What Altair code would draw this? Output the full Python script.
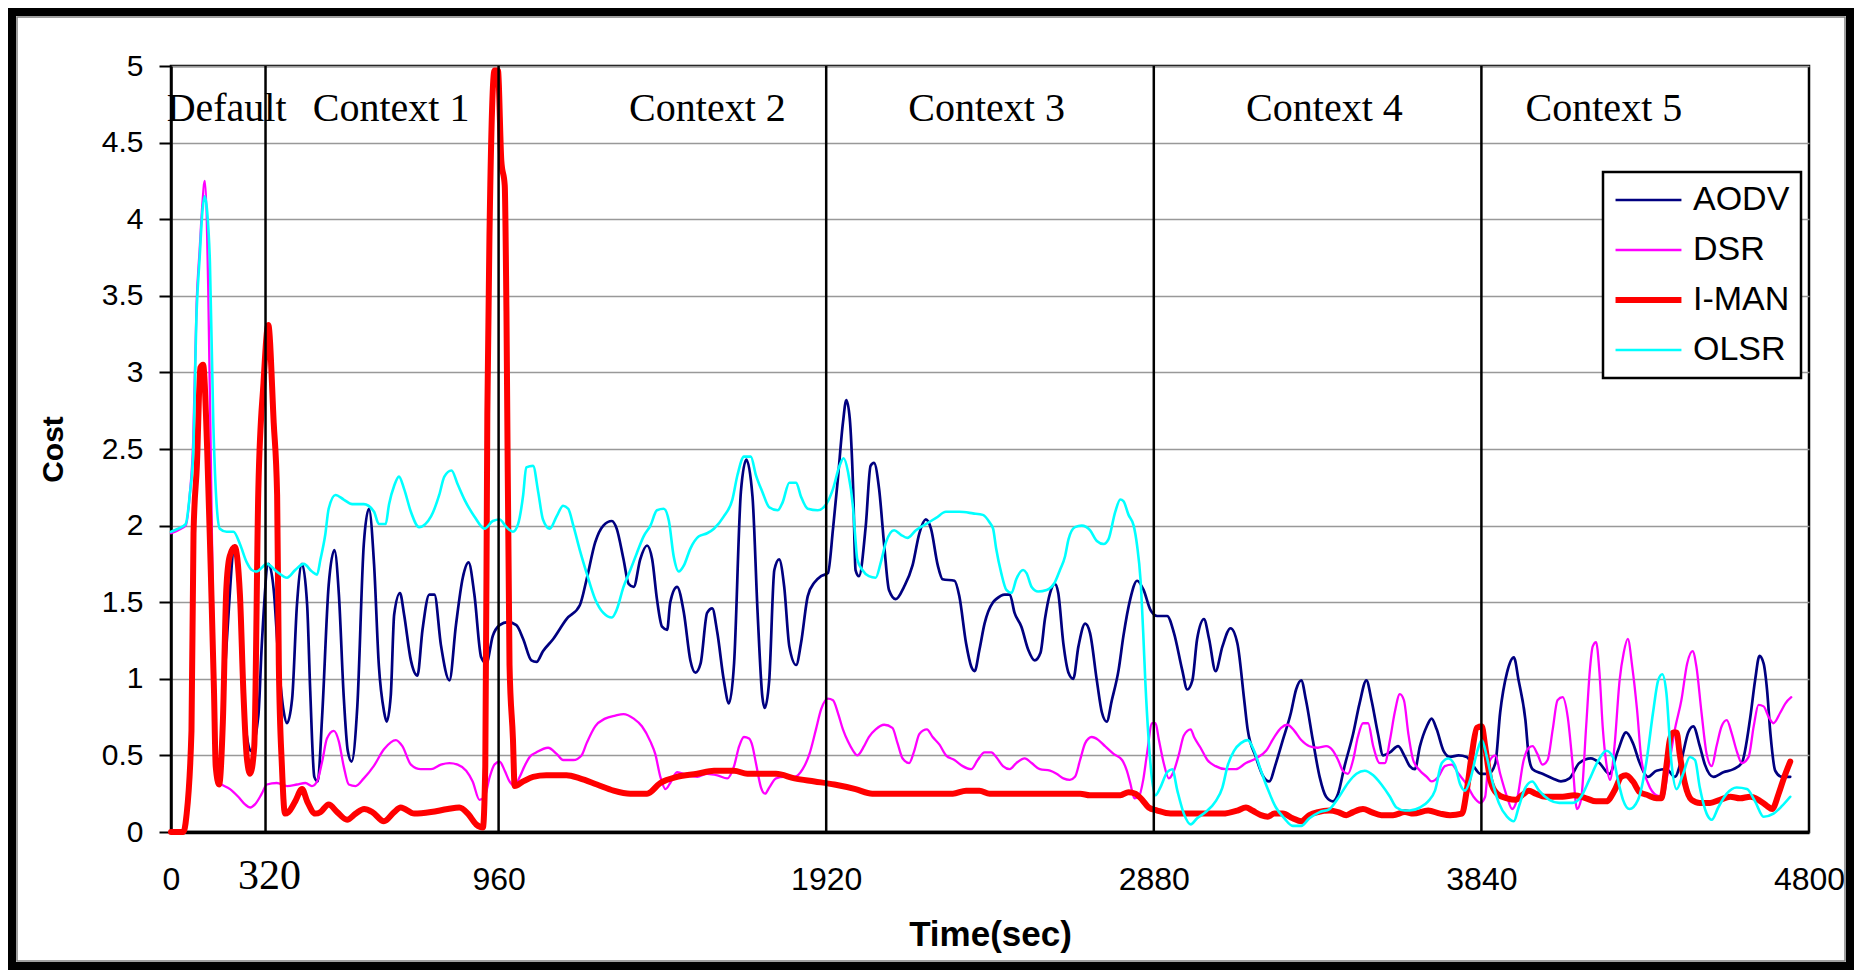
import altair as alt
import pandas as pd

SERIES = ["AODV", "DSR", "I-MAN", "OLSR"]
COLORS = ["#000080", "#FF00FF", "#FF0000", "#00FFFF"]
WIDTHS = [2.7, 2.3, 6.0, 2.6]

AODV = [(141,0.31),(165,1.3),(187,1.87),(202,1.61),(212,0.92),(222,0.63),(234,0.53),(256,0.76),(266,1.22),(286,1.75),
(301,1.58),(316,1.09),(330,0.79),(340,0.71),(355,0.87),(369,1.48),(384,1.75),(399,1.48),(408,0.92),(420,0.36),
(430,0.33),(443,0.76),(462,1.61),(479,1.84),(492,1.55),(506,0.89),(518,0.53),(529,0.46),(546,0.82),(565,1.88),
(580,2.11),(595,1.75),(609,1.09),(624,0.79),(632,0.72),(644,0.89),(654,1.42),(671,1.56),(683,1.42),(703,1.12),
(722,1.02),(737,1.32),(757,1.55),(772,1.55),(791,1.22),(816,0.99),(835,1.35),(855,1.66),(872,1.76),(889,1.55),
(909,1.14),(924,1.1),(943,1.28),(963,1.35),(987,1.37),(1012,1.35),(1032,1.26),(1056,1.12),(1071,1.11),(1090,1.18),
(1120,1.26),(1159,1.39),(1198,1.48),(1218,1.65),(1243,1.89),(1267,2.0),(1292,2.03),(1306,1.98),(1326,1.78),(1341,1.62),
(1356,1.6),(1375,1.78),(1395,1.87),(1410,1.78),(1424,1.52),(1439,1.34),(1454,1.32),(1463,1.5),(1483,1.6),(1503,1.43),
(1522,1.12),(1537,1.04),(1552,1.1),(1571,1.43),(1586,1.46),(1601,1.3),(1620,0.99),(1635,0.84),(1650,1.1),(1670,2.22),
(1686,2.43),(1704,2.19),(1719,1.43),(1733,0.88),(1740,0.81),(1753,0.99),(1768,1.71),(1782,1.78),(1797,1.6),(1812,1.21),
(1832,1.09),(1846,1.23),(1866,1.54),(1886,1.63),(1905,1.67),(1925,1.69),(1940,1.98),(1954,2.3),(1969,2.67),(1979,2.82),
(1989,2.7),(1999,2.24),(2006,1.71),(2016,1.67),(2036,2.0),(2050,2.39),(2060,2.41),(2075,2.24),(2090,1.87),(2104,1.58),
(2124,1.52),(2148,1.6),(2173,1.74),(2193,1.95),(2212,2.04),(2227,1.98),(2247,1.74),(2261,1.65),(2296,1.64),(2310,1.54),
(2330,1.23),(2345,1.08),(2355,1.05),(2369,1.19),(2384,1.36),(2409,1.5),(2418,1.52),(2443,1.55),(2458,1.55),(2472,1.43),
(2492,1.34),(2512,1.19),(2531,1.12),(2548,1.17),(2561,1.39),(2576,1.56),(2590,1.62),(2600,1.56),(2615,1.23),(2630,1.04),
(2644,1.0),(2659,1.21),(2679,1.36),(2693,1.3),(2713,0.99),(2728,0.78),(2742,0.72),(2757,0.86),(2777,1.06),(2791,1.28),
(2811,1.52),(2831,1.64),(2850,1.58),(2870,1.45),(2890,1.41),(2919,1.41),(2939,1.3),(2963,1.06),(2978,0.93),(2993,0.99),
(3007,1.26),(3027,1.39),(3042,1.26),(3061,1.05),(3081,1.21),(3105,1.33),(3125,1.23),(3145,0.86),(3155,0.67),(3179,0.49),
(3199,0.37),(3218,0.33),(3238,0.45),(3258,0.6),(3282,0.78),(3297,0.93),(3312,0.99),(3326,0.86),(3346,0.6),(3366,0.36),
(3385,0.23),(3405,0.2),(3420,0.25),(3439,0.43),(3464,0.64),(3483,0.84),(3503,0.99),(3518,0.86),(3537,0.64),(3552,0.5),
(3572,0.52),(3596,0.56),(3616,0.49),(3630,0.43),(3645,0.41),(3660,0.56),(3680,0.69),(3694,0.74),(3709,0.67),(3729,0.53),
(3748,0.49),(3773,0.5),(3797,0.49),(3817,0.43),(3837,0.38),(3861,0.38),(3881,0.45),(3895,0.78),(3915,1.04),(3935,1.14),
(3949,0.99),(3969,0.73),(3979,0.49),(3990,0.41),(4019,0.38),(4049,0.35),(4073,0.33),(4098,0.35),(4127,0.45),(4161,0.48),
(4186,0.45),(4215,0.38),(4240,0.53),(4264,0.65),(4284,0.58),(4304,0.45),(4328,0.36),(4353,0.4),(4382,0.41),(4407,0.36),
(4426,0.47),(4446,0.65),(4461,0.69),(4480,0.56),(4495,0.44),(4520,0.36),(4549,0.39),(4579,0.41),(4603,0.45),(4628,0.75),
(4642,0.99),(4655,1.15),(4667,1.1),(4677,0.93),(4687,0.64),(4701,0.4),(4721,0.36),(4745,0.36)]

DSR = [(0,1.95),(21,1.97),(43,2.0),(55,2.2),(65,2.55),(75,3.45),(84,3.8),(92,4.1),(99,4.25),(109,3.56),
(119,2.08),(128,0.76),(133,0.33),(148,0.31),(173,0.28),(197,0.23),(217,0.18),(232,0.16),(246,0.18),(266,0.25),
(281,0.31),(310,0.32),(340,0.3),(369,0.31),(394,0.32),(413,0.3),(428,0.33),(443,0.46),(457,0.61),(477,0.66),
(492,0.59),(506,0.43),(521,0.31),(541,0.3),(565,0.35),(594,0.43),(624,0.54),(659,0.6),(678,0.56),(703,0.44),
(732,0.41),(762,0.41),(791,0.44),(816,0.45),(840,0.44),(865,0.4),(884,0.33),(904,0.21),(919,0.23),(934,0.36),
(948,0.44),(963,0.46),(978,0.4),(992,0.33),(1007,0.3),(1022,0.36),(1036,0.43),(1051,0.49),(1071,0.52),(1105,0.55),
(1130,0.51),(1149,0.47),(1179,0.47),(1203,0.5),(1218,0.58),(1243,0.69),(1272,0.74),(1302,0.76),(1326,0.77),(1356,0.74),
(1380,0.69),(1405,0.59),(1419,0.51),(1434,0.36),(1449,0.28),(1463,0.32),(1483,0.39),(1513,0.37),(1542,0.36),(1571,0.38),
(1601,0.37),(1630,0.35),(1650,0.43),(1665,0.56),(1679,0.62),(1694,0.61),(1704,0.56),(1714,0.45),(1729,0.29),(1741,0.25),
(1753,0.29),(1773,0.35),(1797,0.36),(1827,0.36),(1851,0.41),(1871,0.51),(1890,0.67),(1905,0.8),(1925,0.87),(1940,0.86),
(1954,0.78),(1969,0.67),(1984,0.59),(1999,0.53),(2011,0.5),(2031,0.56),(2045,0.62),(2065,0.67),(2090,0.7),(2114,0.68),
(2129,0.58),(2144,0.48),(2163,0.45),(2178,0.53),(2193,0.64),(2215,0.67),(2232,0.62),(2252,0.57),(2271,0.5),(2296,0.47),
(2320,0.43),(2345,0.41),(2364,0.47),(2384,0.52),(2404,0.52),(2418,0.49),(2438,0.43),(2458,0.41),(2477,0.45),(2502,0.48),
(2522,0.45),(2546,0.41),(2576,0.4),(2595,0.38),(2615,0.35),(2634,0.34),(2649,0.36),(2664,0.47),(2679,0.58),(2698,0.62),
(2718,0.6),(2737,0.56),(2762,0.51),(2787,0.47),(2801,0.4),(2811,0.32),(2823,0.22),(2836,0.23),(2849,0.34),(2860,0.51),
(2875,0.71),(2885,0.71),(2895,0.6),(2909,0.45),(2924,0.35),(2939,0.4),(2954,0.51),(2968,0.63),(2988,0.67),(2998,0.62),
(3017,0.55),(3037,0.47),(3061,0.43),(3091,0.41),(3120,0.41),(3150,0.45),(3179,0.48),(3209,0.53),(3233,0.62),(3253,0.68),
(3272,0.7),(3292,0.66),(3312,0.6),(3336,0.56),(3361,0.55),(3385,0.56),(3405,0.53),(3420,0.47),(3434,0.4),(3449,0.38),
(3464,0.47),(3478,0.62),(3493,0.71),(3508,0.71),(3523,0.56),(3542,0.45),(3557,0.45),(3572,0.6),(3586,0.78),(3601,0.9),
(3613,0.86),(3626,0.64),(3640,0.47),(3660,0.4),(3680,0.36),(3694,0.33),(3714,0.36),(3733,0.43),(3753,0.44),(3773,0.38),
(3797,0.31),(3817,0.23),(3837,0.19),(3851,0.23),(3861,0.45),(3881,0.5),(3895,0.38),(3915,0.23),(3930,0.15),(3944,0.21),
(3964,0.47),(3979,0.55),(3990,0.56),(4004,0.51),(4019,0.44),(4034,0.47),(4049,0.67),(4063,0.86),(4078,0.88),(4093,0.75),
(4107,0.45),(4120,0.15),(4132,0.21),(4147,0.69),(4158,1.06),(4166,1.21),(4176,1.24),(4186,1.04),(4196,0.67),(4206,0.45),
(4217,0.34),(4230,0.56),(4245,0.99),(4257,1.17),(4269,1.26),(4282,1.08),(4296,0.8),(4309,0.47),(4328,0.32),(4353,0.24),
(4372,0.23),(4387,0.4),(4407,0.67),(4426,0.86),(4443,1.1),(4459,1.18),(4470,1.08),(4485,0.78),(4500,0.51),(4515,0.43),
(4529,0.56),(4544,0.69),(4559,0.73),(4574,0.64),(4588,0.53),(4603,0.45),(4623,0.49),(4638,0.69),(4652,0.83),(4667,0.82),
(4682,0.75),(4696,0.71),(4716,0.78),(4731,0.84),(4748,0.88)]

IMAN = [(0,0.0),(36,0.0),(45,0.1),(60,0.66),(66,1.95),(76,2.4),(86,3.03),(94,3.05),(106,2.5),(116,1.75),
(126,0.92),(131,0.43),(141,0.31),(152,0.72),(162,1.58),(172,1.8),(187,1.86),(202,1.55),(212,0.92),(222,0.49),
(232,0.38),(244,0.56),(256,2.24),(271,2.93),(285,3.31),(301,2.67),(311,2.2),(316,1.09),(325,0.43),(334,0.12),
(344,0.13),(364,0.2),(384,0.28),(399,0.2),(423,0.12),(438,0.13),(462,0.18),(487,0.13),(516,0.08),(541,0.12),
(566,0.15),(590,0.13),(624,0.07),(654,0.13),(673,0.16),(713,0.12),(762,0.13),(811,0.15),(845,0.16),(870,0.12),
(894,0.05),(914,0.03),(921,0.43),(927,2.73),(934,4.0),(948,4.97),(958,4.97),(968,4.38),(978,4.22),(983,3.4),
(992,1.09),(1002,0.61),(1007,0.3),(1032,0.33),(1061,0.36),(1100,0.37),(1159,0.37),(1198,0.35),(1248,0.31),(1297,0.27),
(1346,0.25),(1395,0.25),(1434,0.32),(1483,0.36),(1542,0.38),(1591,0.4),(1650,0.4),(1689,0.38),(1773,0.38),(1827,0.35),
(1886,0.33),(1944,0.31),(2006,0.28),(2055,0.25),(2173,0.25),(2291,0.25),(2330,0.27),(2369,0.27),(2399,0.25),(2664,0.25),
(2693,0.24),(2782,0.24),(2806,0.26),(2826,0.25),(2846,0.21),(2865,0.16),(2890,0.14),(2929,0.12),(3022,0.12),(3081,0.12),
(3125,0.14),(3150,0.16),(3169,0.14),(3194,0.11),(3214,0.1),(3233,0.12),(3258,0.12),(3287,0.09),(3312,0.07),(3336,0.11),
(3361,0.13),(3395,0.14),(3420,0.13),(3444,0.11),(3464,0.13),(3493,0.15),(3518,0.13),(3547,0.11),(3581,0.11),(3616,0.13),
(3640,0.12),(3684,0.14),(3719,0.12),(3748,0.11),(3783,0.12),(3797,0.27),(3812,0.51),(3827,0.68),(3841,0.69),(3851,0.56),
(3866,0.34),(3886,0.25),(3915,0.22),(3940,0.21),(3959,0.24),(3979,0.27),(3999,0.25),(4029,0.23),(4078,0.23),(4112,0.24),
(4147,0.22),(4176,0.2),(4206,0.2),(4230,0.27),(4250,0.36),(4264,0.37),(4284,0.33),(4304,0.26),(4328,0.24),(4353,0.22),
(4367,0.22),(4382,0.43),(4392,0.6),(4402,0.65),(4412,0.65),(4421,0.51),(4436,0.32),(4456,0.21),(4480,0.19),(4510,0.19),
(4539,0.21),(4569,0.23),(4598,0.22),(4628,0.23),(4652,0.21),(4677,0.17),(4692,0.15),(4711,0.25),(4726,0.35),(4745,0.46)]

OLSR = [(0,1.96),(21,1.98),(43,2.01),(55,2.2),(65,2.47),(75,3.39),(84,3.75),(92,4.05),(99,4.15),(106,4.05),
(114,3.72),(124,2.67),(132,2.2),(143,1.98),(163,1.96),(183,1.96),(202,1.88),(222,1.76),(237,1.71),(251,1.7),
(281,1.75),(310,1.7),(340,1.66),(364,1.71),(389,1.75),(413,1.7),(428,1.68),(438,1.78),(452,1.94),(462,2.11),
(482,2.2),(506,2.17),(531,2.14),(565,2.14),(595,2.09),(609,2.01),(629,2.01),(639,2.14),(654,2.26),(668,2.32),
(683,2.24),(703,2.09),(727,1.99),(762,2.06),(786,2.2),(801,2.32),(822,2.36),(840,2.27),(860,2.17),(889,2.06),
(919,1.98),(943,2.03),(963,2.04),(983,1.99),(1002,1.96),(1017,2.01),(1032,2.2),(1041,2.38),(1061,2.39),(1076,2.22),
(1090,2.04),(1110,1.98),(1130,2.06),(1149,2.13),(1164,2.11),(1179,2.0),(1198,1.84),(1218,1.69),(1243,1.52),(1267,1.43),
(1292,1.4),(1306,1.45),(1326,1.6),(1346,1.71),(1365,1.82),(1385,1.93),(1405,2.0),(1424,2.1),(1444,2.11),(1459,2.03),
(1473,1.8),(1488,1.7),(1503,1.74),(1522,1.85),(1547,1.93),(1571,1.95),(1591,1.98),(1620,2.06),(1645,2.17),(1660,2.33),
(1679,2.45),(1699,2.45),(1714,2.33),(1733,2.22),(1753,2.12),(1778,2.1),(1792,2.15),(1812,2.28),(1832,2.28),(1846,2.19),
(1866,2.11),(1895,2.1),(1920,2.14),(1940,2.24),(1959,2.39),(1971,2.44),(1984,2.35),(1999,2.11),(2005,1.93),(2011,1.78),
(2026,1.71),(2045,1.67),(2065,1.66),(2080,1.76),(2095,1.89),(2119,1.97),(2139,1.94),(2158,1.92),(2183,1.97),(2212,2.01),
(2242,2.05),(2271,2.09),(2310,2.09),(2350,2.08),(2379,2.07),(2399,2.02),(2409,1.98),(2418,1.85),(2433,1.69),(2448,1.58),
(2463,1.56),(2477,1.65),(2497,1.71),(2507,1.69),(2522,1.6),(2541,1.57),(2566,1.58),(2590,1.63),(2605,1.71),(2620,1.8),
(2630,1.91),(2649,1.99),(2669,2.0),(2693,1.97),(2713,1.9),(2733,1.88),(2747,1.91),(2767,2.09),(2782,2.17),(2791,2.16),
(2806,2.07),(2821,2.0),(2831,1.87),(2841,1.65),(2849,1.3),(2855,0.99),(2865,0.6),(2875,0.34),(2885,0.24),(2899,0.29),
(2919,0.39),(2934,0.41),(2949,0.27),(2968,0.12),(2988,0.05),(3007,0.09),(3032,0.13),(3061,0.2),(3081,0.29),(3096,0.43),
(3115,0.53),(3135,0.58),(3155,0.6),(3174,0.53),(3194,0.4),(3214,0.28),(3238,0.16),(3262,0.09),(3287,0.04),(3312,0.04),
(3336,0.09),(3366,0.13),(3395,0.15),(3420,0.22),(3449,0.32),(3474,0.38),(3498,0.4),(3523,0.37),(3547,0.31),(3572,0.23),
(3591,0.16),(3616,0.14),(3630,0.14),(3660,0.16),(3684,0.2),(3704,0.27),(3724,0.45),(3743,0.48),(3763,0.43),(3778,0.31),
(3792,0.27),(3807,0.34),(3827,0.52),(3841,0.6),(3856,0.49),(3871,0.34),(3891,0.19),(3915,0.1),(3935,0.07),(3949,0.16),
(3969,0.29),(3989,0.33),(4009,0.27),(4039,0.21),(4068,0.19),(4107,0.19),(4132,0.23),(4156,0.34),(4181,0.46),(4206,0.53),
(4225,0.49),(4240,0.34),(4255,0.21),(4274,0.15),(4299,0.21),(4323,0.45),(4343,0.78),(4358,0.99),(4370,1.03),(4382,0.91),
(4397,0.45),(4412,0.28),(4431,0.38),(4451,0.49),(4466,0.47),(4480,0.29),(4500,0.12),(4515,0.08),(4534,0.16),(4559,0.25),
(4588,0.29),(4618,0.28),(4642,0.2),(4667,0.1),(4696,0.12),(4721,0.17),(4745,0.23)]

CONTEXT_NAMES = ["Default", "Context 1", "Context 2", "Context 3", "Context 4", "Context 5"]
CONTEXT_POS = [163, 645, 1572, 2390, 3380, 4199]
CONTEXT_Y = 4.64
BOUNDARIES = [277, 960, 1920, 2880, 3840]
X_TICKS = [0, 960, 1920, 2880, 3840, 4800]
Y_TICKS = [0, 0.5, 1, 1.5, 2, 2.5, 3, 3.5, 4, 4.5, 5]
EXTRA_LABEL = "320"
EXTRA_LABEL_POS = 289
EXTRA_LABEL_Y = -0.372

W, H = 1638, 766
SANS = "Liberation Sans"
SERIF = "Liberation Serif"

rows = []
for name, pts in zip(SERIES, [AODV, DSR, IMAN, OLSR]):
    for t, v in pts:
        rows.append({"series": name, "t": t, "v": v})
df = pd.DataFrame(rows)

xs = alt.Scale(domain=[0, 4800], nice=False, zero=False)
ys = alt.Scale(domain=[0, 5], nice=False)

x_axis = alt.Axis(values=X_TICKS, format="d", title="Time(sec)", titleFont=SANS, titleFontSize=35,
                  titleFontWeight="bold", titleColor="black", titleY=113, titleBaseline="alphabetic",
                  labelFont=SANS, labelFontSize=32, labelColor="black", labelPadding=32, ticks=False,
                  tickSize=0, domainColor="black", domainWidth=3.5, grid=False, labelFlush=False,
                  labelOverlap=False)
y_axis = alt.Axis(values=Y_TICKS, format="~g", title="Cost", titleFont=SANS, titleFontSize=30,
                  titleFontWeight="bold", titleColor="black", titleAngle=270, titleX=-109, titleY=H / 2,
                  titleAlign="center", titleBaseline="alphabetic", labelFont=SANS, labelFontSize=30,
                  labelColor="black", labelPadding=16, tickSize=12, tickColor="black", tickWidth=2,
                  domainColor="black", domainWidth=2.5, grid=True, gridColor="#999999", gridWidth=1.5,
                  labelFlush=False, labelOverlap=False)

legend = alt.Legend(title=None, orient="none", legendX=1432, legendY=106, direction="vertical",
                    fillColor="white", strokeColor="black", padding=11, labelFont=SANS,
                    labelFontSize=34, labelColor="black", labelOffset=45, rowPadding=16,
                    symbolType="M-1.19,0H3.88", symbolSize=676, symbolStrokeWidth=2.7, labelLimit=0)

color = alt.Color("series:N", scale=alt.Scale(domain=SERIES, range=COLORS), legend=legend)
swidth = alt.StrokeWidth("series:O", scale=alt.Scale(type="ordinal", domain=SERIES, range=WIDTHS), legend=legend)

layers = []
frame_df = pd.DataFrame({"k": [0]})
layers.append(alt.Chart(frame_df).mark_rect(fill=None, stroke="black", strokeWidth=8).encode(
    x=alt.value(-159), x2=alt.value(1679), y=alt.value(-54), y2=alt.value(900)))
layers.append(alt.Chart(frame_df).mark_rect(fill=None, stroke="#808080", strokeWidth=1.5).encode(
    x=alt.value(-154), x2=alt.value(1674), y=alt.value(-49), y2=alt.value(895)))

for name, w in zip(SERIES, WIDTHS):
    sub = df[df.series == name]
    layers.append(alt.Chart(sub).mark_line(interpolate="monotone", strokeJoin="round", strokeCap="round",
                                           strokeWidth=w).encode(
        x=alt.X("t:Q", scale=xs, axis=x_axis),
        y=alt.Y("v:Q", scale=ys, axis=y_axis),
        color=color, strokeWidth=swidth, order=alt.Order("t:Q")))

bdf = pd.DataFrame({"t": BOUNDARIES, "v": [5] * len(BOUNDARIES), "v2": [0] * len(BOUNDARIES)})
layers.append(alt.Chart(bdf).mark_rule(color="black", strokeWidth=2.5).encode(
    x=alt.X("t:Q", scale=xs, axis=x_axis), y=alt.Y("v:Q", scale=ys, axis=y_axis), y2="v2:Q"))

cdf = pd.DataFrame({"t": CONTEXT_POS, "v": [CONTEXT_Y] * len(CONTEXT_POS), "label": CONTEXT_NAMES})
layers.append(alt.Chart(cdf).mark_text(font=SERIF, fontSize=40, color="black", align="center",
                                       baseline="alphabetic").encode(
    x=alt.X("t:Q", scale=xs, axis=x_axis), y=alt.Y("v:Q", scale=ys, axis=y_axis), text="label:N"))

edf = pd.DataFrame({"t": [EXTRA_LABEL_POS], "v": [EXTRA_LABEL_Y], "label": [EXTRA_LABEL]})
layers.append(alt.Chart(edf).mark_text(font=SERIF, fontSize=42, color="black", align="center",
                                       baseline="alphabetic").encode(
    x=alt.X("t:Q", scale=xs, axis=x_axis), y=alt.Y("v:Q", scale=ys, axis=y_axis), text="label:N"))

chart = alt.layer(*layers).properties(
    width=W, height=H,
    autosize=alt.AutoSizeParams(type="none"),
    padding={"left": 163, "top": 58, "right": 45, "bottom": 139},
    background="white",
).configure_view(stroke="black", strokeWidth=2.5).configure_legend(strokeWidth=2.5)

chart.save("out.html", embed_options={"renderer": "svg", "actions": False})
